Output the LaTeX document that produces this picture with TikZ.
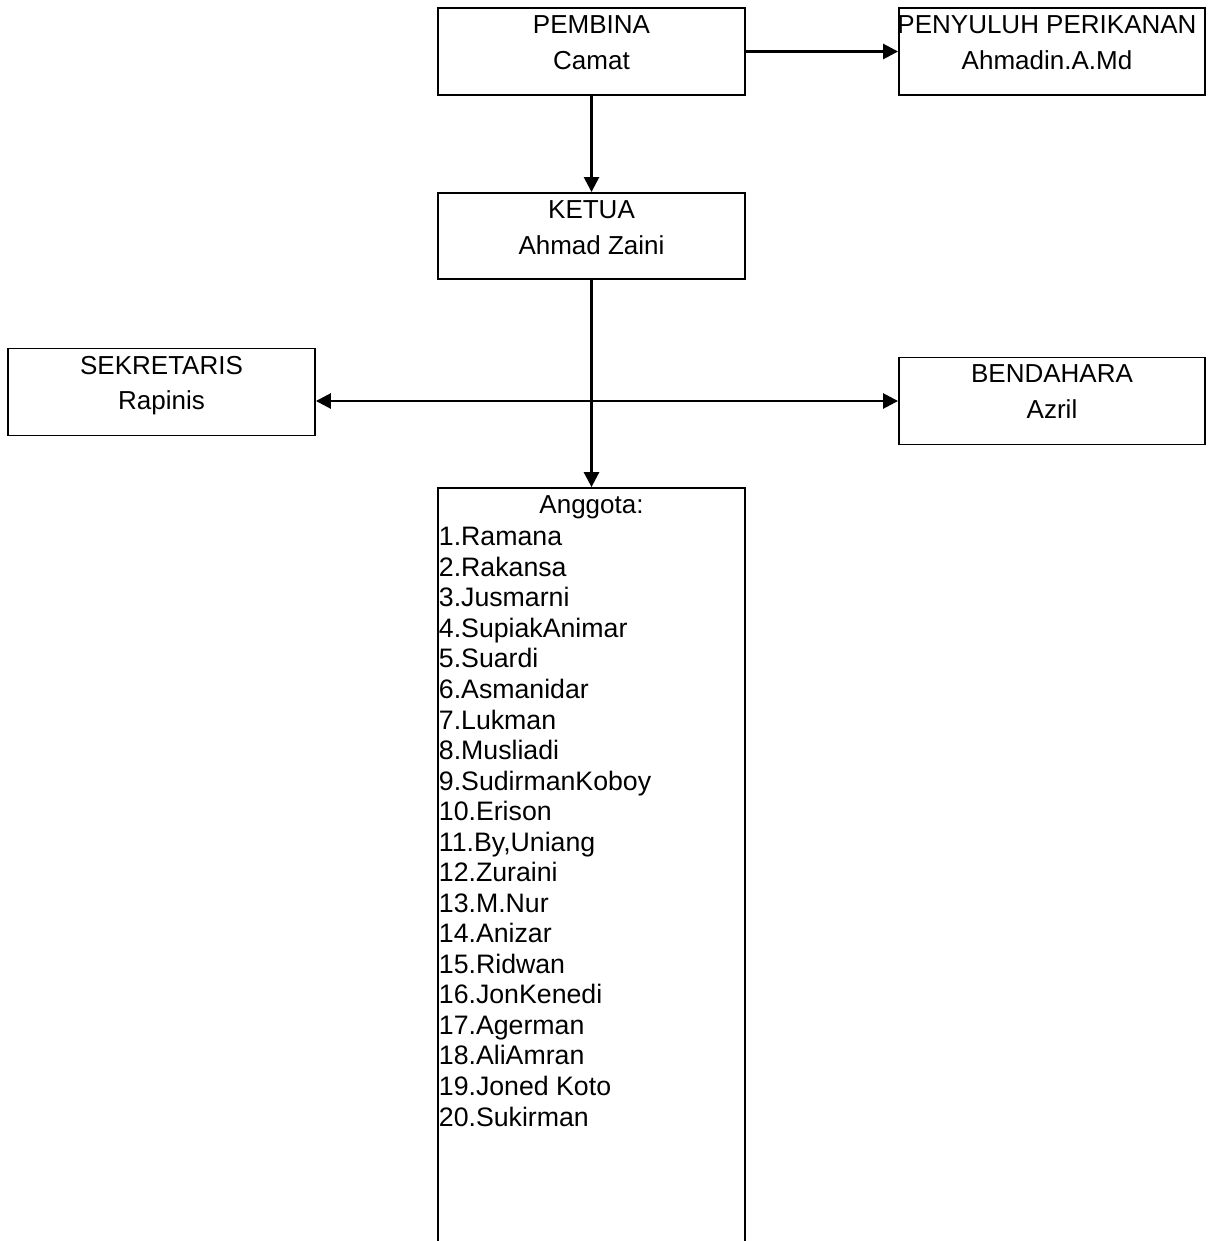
\documentclass[tikz,border=0pt]{standalone}
\usepackage{fontspec}
\setmainfont{Liberation Sans}
\usetikzlibrary{arrows.meta,positioning}

\begin{document}
\begin{tikzpicture}[x=0.02cm,y=-0.02cm]
        \tikzset{
            orgbox/.style={rectangle,draw=black,line width=1.1pt,minimum width=6.14cm,minimum height=1.74cm},
            boxtxt/.style={inner sep=0pt,align=center,font=\fontsize{14.8pt}{20.4pt}\selectfont},
            listtxt/.style={inner sep=0pt,align=left,font=\fontsize{15.2pt}{17.38pt}\selectfont},
            link/.style={line width=1.5pt,-{Triangle[length=8.5pt,width=8.5pt]}},
            dlink/.style={line width=1.5pt,{Triangle[length=8.5pt,width=8.5pt]}-{Triangle[length=8.5pt,width=8.5pt]}},
        }
        \useasboundingbox (0,0) rectangle (1208,1241);
        \clip (0,0) rectangle (1208,1241);

        \node[orgbox] (pembina) at(591.5,51.5) {};
        \node[orgbox,minimum width=6.12cm] (penyuluh) at(1052,51.5) {};
        \node[orgbox,minimum height=1.72cm] (ketua) at(591.5,236) {};
        \node[orgbox] (sekretaris) at(161.5,392) {};
        \node[orgbox,minimum width=6.12cm] (bendahara) at(1052,401) {};
        \node[orgbox,minimum height=15.44cm] (anggota) at(591.5,874) {};

        \node[boxtxt,below=0.16cm of pembina.north] (pembinatxt) {PEMBINA\\Camat};
        \node[boxtxt,below=0.16cm of penyuluh.north,xshift=-0.1cm] (penyuluhtxt) {PENYULUH PERIKANAN\\Ahmadin.A.Md};
        \node[boxtxt,below=0.16cm of ketua.north] (ketuatxt) {KETUA\\Ahmad Zaini};
        \node[boxtxt,below=0.16cm of sekretaris.north] (sekretaristxt) {SEKRETARIS\\Rapinis};
        \node[boxtxt,below=0.16cm of bendahara.north] (bendaharatxt) {BENDAHARA\\Azril};
        \node[boxtxt,below=0.16cm of anggota.north] (anggotatxt) {Anggota:};
        \node[listtxt,below right=0.8cm and 0.03cm of anggota.north west] (anggotalist) {1.Ramana\\2.Rakansa\\3.Jusmarni\\4.SupiakAnimar\\5.Suardi\\6.Asmanidar\\7.Lukman\\8.Musliadi\\9.SudirmanKoboy\\10.Erison\\11.By,Uniang\\12.Zuraini\\13.M.Nur\\14.Anizar\\15.Ridwan\\16.JonKenedi\\17.Agerman\\18.AliAmran\\19.Joned Koto\\20.Sukirman};

        \draw[link] (pembina) -- (penyuluh);
        \draw[link] (pembina) -- (ketua);
        \draw[link] (ketua) -- (anggota);
        \draw[dlink] (sekretaris.east |- bendahara.west) -- (bendahara.west);
    \end{tikzpicture}
\end{document}
